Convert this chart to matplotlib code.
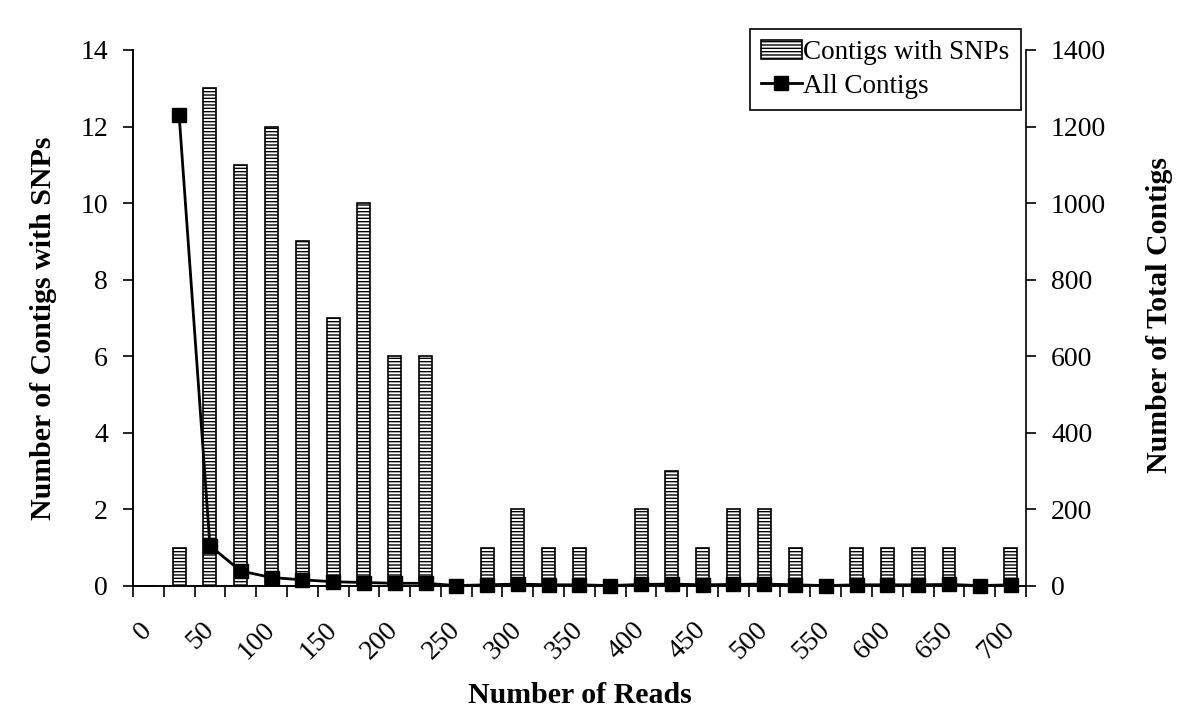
import numpy as np
import matplotlib
matplotlib.use("Agg")
import matplotlib.pyplot as plt

plt.rcParams["font.family"] = ["Liberation Serif", "DejaVu Serif"]
plt.rcParams["hatch.linewidth"] = 1.0
plt.rcParams["hatch.color"] = "#222222"

# categories (number of reads), one every 25
reads = [0, 25, 50, 75, 100, 125, 150, 175, 200, 225, 250, 275, 300, 325, 350,
         375, 400, 425, 450, 475, 500, 525, 550, 575, 600, 625, 650, 675, 700]
tick_labels = ["0", "50", "100", "150", "200", "250", "300", "350",
               "400", "450", "500", "550", "600", "650", "700"]

# left axis: contigs with SNPs
snp_contigs = [0, 1, 13, 11, 12, 9, 7, 10, 6, 6, 0, 1, 2, 1, 1,
               0, 2, 3, 1, 2, 2, 1, 0, 1, 1, 1, 1, 0, 1]
# right axis: all contigs (no value at 0)
all_contigs = [np.nan, 1229, 105, 39, 22, 16, 11, 9, 7, 7, 1, 3, 5, 3, 3,
               1, 4, 5, 3, 4, 5, 3, 1, 3, 3, 3, 4, 1, 3]

x = np.arange(len(reads))

fig = plt.figure(figsize=(12, 7.21), dpi=100)
ax = fig.add_axes([0.1108, 0.1873, 0.7442, 0.7434])
ax2 = ax.twinx()

bars = ax.bar(x, snp_contigs, width=0.42, facecolor="white", edgecolor="black",
              linewidth=1.2, hatch="-----", label="Contigs with SNPs")
line, = ax2.plot(x, all_contigs, color="black", linewidth=2, marker="s",
                 markersize=10, markerfacecolor="black", clip_on=False,
                 label="All Contigs")

ax.set_xlim(-0.5, len(reads) - 0.5)
ax.set_ylim(0, 14)
ax.set_yticks(range(0, 15, 2))
ax2.set_ylim(0, 1400)
ax2.set_yticks(range(0, 1401, 200))

# labels on every other category, ticks on category boundaries
ax.set_xticks(x[::2])
ax.set_xticklabels(tick_labels)
ax.set_xticks(np.arange(-0.5, len(reads), 1.0), minor=True)
ax.tick_params(axis="x", which="major", length=0, pad=29, labelsize=20)
ax.tick_params(axis="x", which="minor", length=8, width=1.2, direction="out")
plt.setp(ax.get_xticklabels(), rotation=45, ha="right", va="center",
         rotation_mode="anchor")

ax.tick_params(axis="y", length=7, width=1.2, direction="out", pad=11, labelsize=20)
ax2.tick_params(axis="y", length=7, width=1.2, direction="out", pad=11, labelsize=20)

for a in (ax, ax2):
    a.spines["top"].set_visible(False)
    for s in a.spines.values():
        s.set_linewidth(1.2)
ax.spines["right"].set_visible(False)

ax.set_xlabel("Number of Reads", fontsize=21.5, fontweight="bold")
ax.xaxis.set_label_coords(0.5, -0.205)
ax.xaxis.label.set_va("center")
ax.set_ylabel("Number of Contigs with SNPs", fontsize=21.5, fontweight="bold")
ax.yaxis.set_label_coords(-0.1, 0.481)
ax.yaxis.label.set_va("center")
ax2.set_ylabel("Number of Total Contigs", fontsize=21.5, fontweight="bold",
               rotation=90)
ax2.yaxis.set_label_coords(1.149, 0.506)
ax2.yaxis.label.set_va("center")

leg = ax2.legend([bars, line], ["Contigs with SNPs", "All Contigs"],
                 loc="upper right", bbox_to_anchor=(0.994, 1.039),
                 fontsize=19.5, frameon=True, fancybox=False, framealpha=1,
                 edgecolor="black", handlelength=1.5, handletextpad=0.05,
                 borderpad=0.42, labelspacing=0.3, borderaxespad=0)
leg.get_frame().set_linewidth(1.2)

fig.savefig("out.png", dpi=100)
